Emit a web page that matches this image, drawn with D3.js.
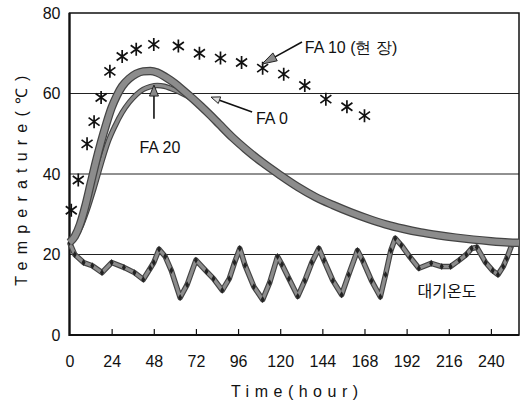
<!DOCTYPE html>
<html>
<head>
<meta charset="utf-8">
<script src="https://cdn.jsdelivr.net/npm/d3@7"></script>
<style>
  html, body { margin: 0; padding: 0; background: #fff; }
  svg { display: block; }
  text { font-family: "Liberation Sans", Arial, sans-serif; fill: #111; }
</style>
</head>
<body>
<svg id="chart" width="523" height="405"></svg>
<script>
// Hydration temperature of mass concrete vs. ambient air temperature

// FA 10 (field) measured points
const fa10Hours = [1, 5, 10, 14, 18, 23, 30, 38, 48, 62, 74, 86, 98, 110, 122, 134, 146, 158, 168];
const fa10Temp  = [31, 38.5, 47.5, 53, 59, 65.5, 69.2, 71, 72.2, 71.8, 70, 68.8, 67.7, 66.3, 64.8, 62, 58.6, 56.7, 54.5];

// FA 0 curve (upper band)
const fa0Hours = [0, 3, 6, 9, 12, 15, 18, 21, 24, 27, 30, 34, 38, 42, 46, 50, 55, 60, 65, 70, 75, 80, 85, 93, 100, 110, 120, 130, 140, 150, 160, 170, 180, 190, 200, 210, 220, 230, 240, 250, 256];
const fa0Temp  = [23, 24.5, 27.5, 32, 37.5, 43, 48, 52.5, 56.5, 59.5, 61.8, 63.7, 64.9, 65.5, 65.6, 65.2, 64, 62.5, 60.7, 58.8, 56.8, 54.7, 52.5, 49, 46.3, 42.8, 39.7, 36.8, 34.3, 32.3, 30.5, 28.9, 27.5, 26.4, 25.5, 24.8, 24.2, 23.7, 23.3, 23, 22.9];

// FA 20 curve (lower band)
const fa20Hours = [0, 6, 10, 14, 18, 22, 26, 30, 34, 38, 42, 46, 50, 54, 58, 62, 66, 70, 75];
const fa20Temp  = [23, 26.5, 31, 36.5, 42.5, 48, 52, 55.3, 57.8, 59.7, 61, 61.7, 62, 61.8, 61.2, 60.5, 59.6, 58.6, 56.8];

// Ambient air temperature (대기온도)
const airHours = [0, 3, 8, 13, 18.5, 24, 31, 37, 42, 46, 48, 51, 54.5, 58, 63, 67, 72, 78, 82, 87, 91, 94, 97, 100, 105, 110, 114, 118.5, 121, 125, 130, 134, 138, 142, 145, 150, 155, 159, 164, 167, 172, 177, 180, 183, 185.5, 189, 194, 199, 206, 212, 217, 222, 226, 229, 232, 237, 241, 244, 247, 249, 252];
const airTemp  = [23, 20, 18, 17.2, 15.5, 18, 16.8, 15.5, 13.8, 16.6, 18, 21.3, 19.5, 16, 9.3, 12.5, 18.6, 15.8, 14, 11.1, 14, 18, 21.5, 17.3, 12, 8.8, 13, 19.5, 17.5, 14, 9.6, 13.5, 18, 21.5, 18.5, 13.5, 10, 15, 21, 18.5, 13.5, 9.5, 15, 21, 24, 22.3, 19.3, 16.6, 17.8, 17, 17, 18.6, 20, 21.5, 21.8, 18, 16, 15, 17, 19, 22.5];

// Axis ticks
const xTicks = [0, 24, 48, 72, 96, 120, 144, 168, 192, 216, 240];
const yTicks = [0, 20, 40, 60, 80];
const gridValues = [20, 40, 60];

const svg = d3.select("#chart");
const x = d3.scaleLinear().domain([0, 256]).range([69.5, 519]);
const y = d3.scaleLinear().domain([0, 80]).range([335, 13]);

// Horizontal gridlines
svg.append("g").selectAll("line").data(gridValues).join("line")
  .attr("x1", x(0)).attr("x2", x(256))
  .attr("y1", d => y(d)).attr("y2", d => y(d))
  .attr("stroke", "#222").attr("stroke-width", 1);

// Frame
svg.append("rect")
  .attr("x", x(0)).attr("y", y(80))
  .attr("width", x(256) - x(0)).attr("height", y(0) - y(80))
  .attr("fill", "none").attr("stroke", "#111").attr("stroke-width", 1.5);
svg.append("path")
  .attr("d", `M${x(0)},${y(80)}V${y(0)}H${x(256)}`)
  .attr("fill", "none").attr("stroke", "#111").attr("stroke-width", 2.2);

// X axis (inner ticks)
const xAxis = svg.append("g").attr("transform", `translate(0,${y(0)})`)
  .call(d3.axisBottom(x).tickValues(xTicks).tickSizeInner(-6).tickSizeOuter(0).tickPadding(21));
xAxis.select(".domain").remove();
xAxis.selectAll(".tick line").attr("stroke", "#111").attr("stroke-width", 1.2)
  .filter(d => d === 0).remove();
xAxis.selectAll("text").style("font-size", "16px").attr("fill", "#111");

// Y axis
const yAxis = svg.append("g").attr("transform", `translate(${x(0)},0)`)
  .call(d3.axisLeft(y).tickValues(yTicks).tickSize(0).tickPadding(9));
yAxis.select(".domain").remove();
yAxis.selectAll("text").style("font-size", "16px").attr("fill", "#111");

// Axis titles
svg.append("text")
  .attr("transform", `translate(27,${(y(0) + y(80)) / 2 + 3}) rotate(-90)`)
  .attr("text-anchor", "middle")
  .style("font-size", "16px").style("letter-spacing", "7.2px")
  .text("Temperature(℃)");
svg.append("text")
  .attr("x", (x(0) + x(256)) / 2 + 3).attr("y", 397)
  .attr("text-anchor", "middle")
  .style("font-size", "16px").style("letter-spacing", "5.5px")
  .text("Time(hour)");

// Banded curve helper: dark rim with a grey core
function band(hours, temps, outer, inner, curve) {
  const pts = hours.map((h, i) => [h, temps[i]]);
  const line = d3.line().x(d => x(d[0])).y(d => y(d[1])).curve(curve);
  const g = svg.append("g");
  g.append("path").attr("d", line(pts)).attr("fill", "none")
    .attr("stroke", "#444").attr("stroke-width", outer).attr("stroke-linejoin", "round");
  g.append("path").attr("d", line(pts)).attr("fill", "none")
    .attr("stroke", "#8c8c8c").attr("stroke-width", inner).attr("stroke-linejoin", "round");
  return g;
}

// Ambient air temperature line with point markers
const airPts = airHours.map((h, i) => [h, airTemp[i]]);
band(airHours, airTemp, 5.5, 3.2, d3.curveLinear);
svg.append("g").selectAll("path").data(airPts).join("path")
  .attr("d", d3.symbol(d3.symbolDiamond, 14))
  .attr("transform", d => `translate(${x(d[0])},${y(d[1])})`)
  .attr("fill", "#222");

// FA 20 and FA 0 curves
band(fa20Hours, fa20Temp, 5.5, 3.2, d3.curveMonotoneX);
band(fa0Hours, fa0Temp, 8.5, 6, d3.curveMonotoneX);

// FA 10 asterisk markers
const star = svg.append("g").selectAll("g").data(fa10Hours.map((h, i) => [h, fa10Temp[i]])).join("g")
  .attr("transform", d => `translate(${x(d[0])},${y(d[1])})`);
star.append("path")
  .attr("d", "M0,-6.5V6.5M-5.5,-4L5.5,4M-5.5,4L5.5,-4")
  .attr("stroke", "#111").attr("stroke-width", 1.7).attr("fill", "none");

// Annotation arrows
function arrow(t1, v1, t2, v2, len, wid, fill) {
  const x1 = x(t1), y1 = y(v1), x2 = x(t2), y2 = y(v2);
  const a = Math.atan2(y2 - y1, x2 - x1);
  const bx = x2 - len * Math.cos(a), by = y2 - len * Math.sin(a);
  svg.append("line").attr("x1", x1).attr("y1", y1).attr("x2", bx).attr("y2", by)
    .attr("stroke", "#111").attr("stroke-width", 1.6);
  const px = -Math.sin(a) * wid / 2, py = Math.cos(a) * wid / 2;
  svg.append("path")
    .attr("d", `M${x2},${y2}L${bx + px},${by + py}L${bx - px},${by - py}Z`)
    .attr("fill", fill).attr("stroke", "#222").attr("stroke-width", 1);
}

arrow(132.4, 72.8, 109.6, 67.3, 15, 9, "#888");
arrow(104, 55.4, 80.6, 59.1, 9, 7, "#ddd");
arrow(48.1, 53.7, 48.1, 62.1, 11, 9, "#888");

// Series labels
svg.append("text").attr("x", x(134)).attr("y", y(70))
  .style("font-size", "16px").text("FA 10 (현 장)");
svg.append("text").attr("x", x(106.2)).attr("y", y(52.4))
  .style("font-size", "16px").text("FA 0");
svg.append("text").attr("x", x(51.5)).attr("y", y(45.2)).attr("text-anchor", "middle")
  .style("font-size", "16px").text("FA 20");
svg.append("text").attr("x", x(215)).attr("y", y(9.4)).attr("text-anchor", "middle")
  .style("font-family", "'Noto Sans CJK KR', sans-serif")
  .style("font-size", "16px").text("대기온도");
</script>
</body>
</html>
